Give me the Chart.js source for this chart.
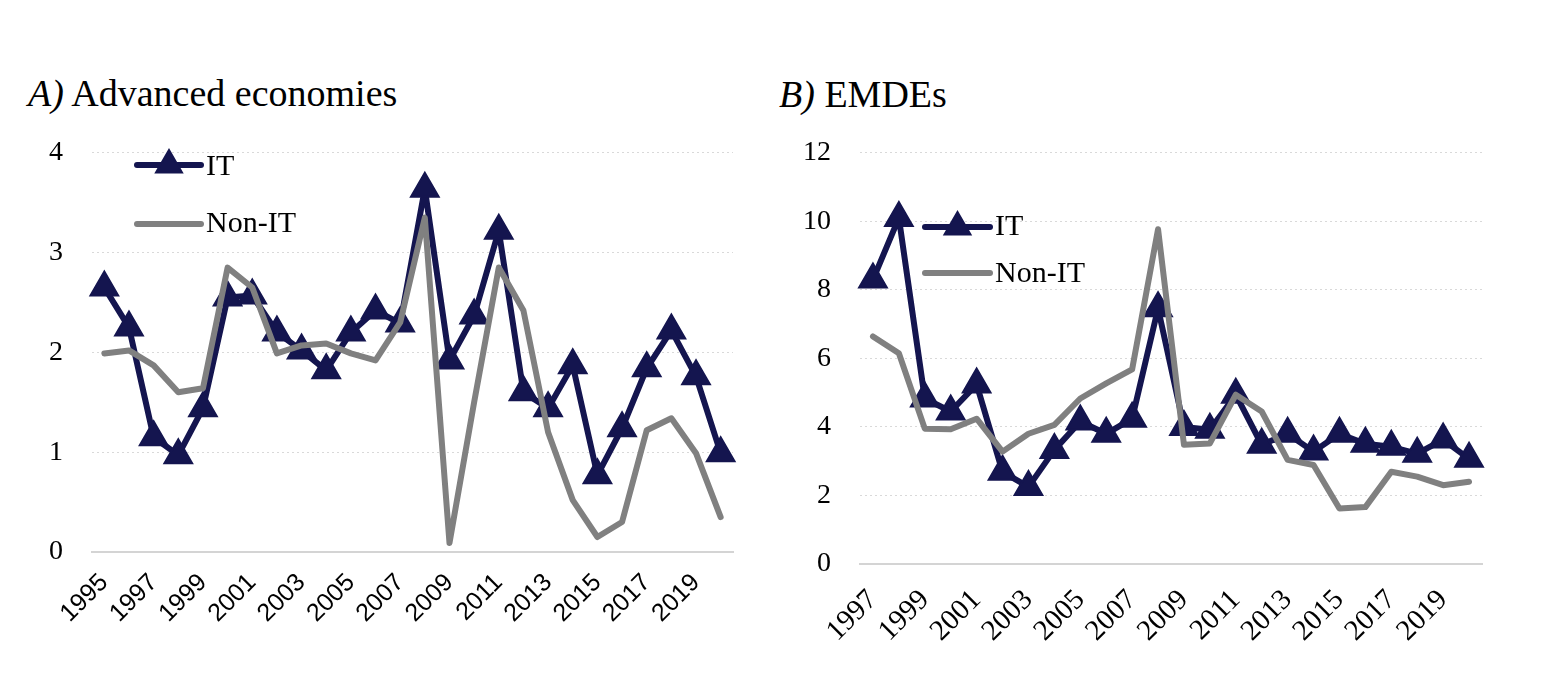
<!DOCTYPE html>
<html>
<head>
<meta charset="utf-8">
<script src="https://cdn.jsdelivr.net/npm/chart.js@4.4.1/dist/chart.umd.min.js"></script>
<style>
  html, body { margin:0; padding:0; background:#fff; }
  body { width:1546px; height:680px; position:relative; overflow:hidden; font-family:"Liberation Serif", serif; }
  .title { position:absolute; font-family:"Liberation Serif", serif; font-size:38px; line-height:38px; color:#000; white-space:nowrap; }
  .title i { font-style:italic; }
  .box { position:absolute; }
</style>
</head>
<body>
<div class="title" style="left:28px; top:74px;"><i>A)</i> Advanced economies</div>
<div class="title" style="left:779px; top:75px;"><i>B)</i> EMDEs</div>
<div class="box" style="left:0px; top:107px; width:751px; height:543px;"><canvas id="cA"></canvas></div>
<div class="box" style="left:760px; top:107px; width:742px; height:543px;"><canvas id="cB"></canvas></div>
<script>
// ---- Data ----
const yearsA = ['1995','1996','1997','1998','1999','2000','2001','2002','2003','2004','2005','2006','2007','2008','2009','2010','2011','2012','2013','2014','2015','2016','2017','2018','2019','2020'];
const itA    = [2.65,2.25,1.15,0.97,1.44,2.55,2.57,2.20,2.02,1.82,2.20,2.42,2.29,3.64,1.92,2.37,3.22,1.60,1.44,1.87,0.77,1.24,1.84,2.22,1.76,0.99];
const nonItA = [1.99,2.02,1.87,1.60,1.64,2.85,2.65,1.99,2.07,2.09,1.99,1.92,2.30,3.35,0.09,1.50,2.85,2.42,1.20,0.52,0.15,0.30,1.22,1.34,0.99,0.35];

const yearsB = ['1997','1998','1999','2000','2001','2002','2003','2004','2005','2006','2007','2008','2009','2010','2011','2012','2013','2014','2015','2016','2017','2018','2019','2020'];
const itB    = [8.30,10.10,4.83,4.45,5.24,2.69,2.25,3.33,4.16,3.80,4.24,7.46,4.00,3.92,4.94,3.48,3.80,3.28,3.80,3.51,3.42,3.22,3.63,3.07];
const nonItB = [6.64,6.15,3.95,3.93,4.24,3.28,3.80,4.06,4.83,5.27,5.68,9.77,3.48,3.52,4.94,4.45,3.04,2.89,1.62,1.66,2.69,2.55,2.30,2.40];

const ticksA = [0,1,2,3,4];
const ticksB = [0,2,4,6,8,10,12];

const seriesNames = ['IT','Non-IT'];
const NAVY = '#14154f';
const GRAY = '#808080';

// ---- legend plugin ----
const innerLegend = {
  id: 'innerLegend',
  afterDatasetsDraw(chart, args, opts) {
    const ctx = chart.ctx;
    ctx.save();
    opts.items.forEach(it => {
      ctx.lineCap = 'round';
      ctx.lineWidth = 6;
      ctx.strokeStyle = it.color;
      ctx.beginPath();
      ctx.moveTo(it.x1, it.y);
      ctx.lineTo(it.x2, it.y);
      ctx.stroke();
      if (it.marker) {
        const cx = (it.x1 + it.x2) / 2, r = 15;
        ctx.fillStyle = it.color;
        ctx.beginPath();
        ctx.moveTo(cx, it.y - r);
        ctx.lineTo(cx + r * 0.866, it.y + r * 0.5);
        ctx.lineTo(cx - r * 0.866, it.y + r * 0.5);
        ctx.closePath();
        ctx.fill();
        ctx.lineWidth = 2; ctx.lineJoin = 'miter';
        ctx.stroke();
      }
      ctx.fillStyle = '#000';
      ctx.font = '30px "Liberation Serif"';
      ctx.textBaseline = 'alphabetic';
      ctx.textAlign = 'left';
      ctx.fillText(it.text, it.x2 + 5, it.ty);
    });
    ctx.restore();
  }
};

function makeChart(id, labels, it, nonIt, yticks, cfg) {
  return new Chart(document.getElementById(id), {
    type: 'line',
    data: {
      labels: labels,
      datasets: [
        { label: seriesNames[0], data: it, borderColor: NAVY, backgroundColor: NAVY, borderWidth: 6,
          pointStyle: 'triangle', pointRadius: 16, pointHoverRadius: 16, pointBorderWidth: 2,
          pointBackgroundColor: NAVY, pointBorderColor: NAVY, tension: 0, order: 1,
          borderJoinStyle: 'round', borderCapStyle: 'round' },
        { label: seriesNames[1], data: nonIt, borderColor: GRAY, backgroundColor: GRAY, borderWidth: 6,
          pointRadius: 0, pointHoverRadius: 0, tension: 0, order: 0,
          borderJoinStyle: 'round', borderCapStyle: 'round' }
      ]
    },
    options: {
      responsive: true, maintainAspectRatio: false, animation: false,
      layout: { padding: { top: 22, right: cfg.padRight, left: 0, bottom: 0 } },
      plugins: { legend: { display: false }, tooltip: { enabled: false }, innerLegend: { items: cfg.legend } },
      scales: {
        x: {
          offset: true,
          grid: { display: false, drawTicks: false },
          border: { display: true, color: '#d4d4d4', width: 2 },
          ticks: {
            autoSkip: false, maxRotation: 45, minRotation: 45, padding: cfg.xPad, color: '#000',
            font: { family: cfg.xFont, size: cfg.xSize },
            callback: function(v, i) { return i % 2 === 0 ? this.getLabelForValue(v) : ''; }
          },
          afterFit: s => { s.height = cfg.xHeight; s.paddingLeft = 0; s.paddingRight = 0; }
        },
        y: {
          min: yticks[0], max: yticks[yticks.length - 1],
          afterBuildTicks: s => { s.ticks = yticks.map(v => ({ value: v })); },
          grid: { color: '#d9d9d9', lineWidth: 1, drawTicks: false },
          border: { display: false, dash: [2, 3] },
          ticks: { padding: 29, color: '#000', font: { family: 'Liberation Serif', size: 28 } },
          afterFit: s => { s.width = cfg.yWidth; }
        }
      }
    },
    plugins: [innerLegend]
  });
}

makeChart('cA', yearsA, itA, nonItA, ticksA, {
  padRight: 8, xHeight: 98, yWidth: 92, xFont: 'Liberation Sans', xSize: 25, xPad: 16,
  legend: [
    { text: seriesNames[0], color: NAVY, marker: true, x1: 137, x2: 201, y: 58, ty: 68 },
    { text: seriesNames[1], color: GRAY, marker: false, x1: 137, x2: 201, y: 117, ty: 125 }
  ]
});
makeChart('cB', yearsB, itB, nonItB, ticksB, {
  padRight: 20, xHeight: 86, yWidth: 100, xFont: 'Liberation Serif', xSize: 29, xPad: 19,
  legend: [
    { text: seriesNames[0], color: NAVY, marker: true, x1: 165, x2: 230, y: 120, ty: 128 },
    { text: seriesNames[1], color: GRAY, marker: false, x1: 165, x2: 230, y: 166, ty: 175 }
  ]
});
</script>
</body>
</html>
